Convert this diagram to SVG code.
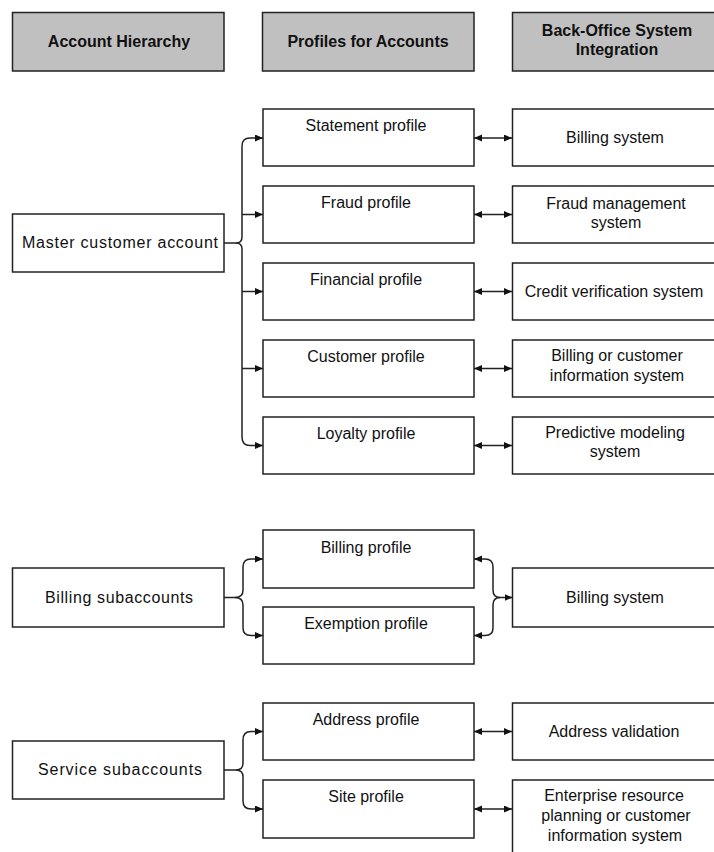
<svg xmlns="http://www.w3.org/2000/svg" width="714" height="852" viewBox="0 0 714 852">
  <style>
    .hdr rect { fill: #c0c0c0; stroke: #222; stroke-width: 1.5; }
    .box rect { fill: #ffffff; stroke: #222; stroke-width: 1.5; }
    text { font-family: "Liberation Sans", Arial, sans-serif; font-size: 16px; fill: #111; text-anchor: middle; }
    .hdr text { font-weight: bold; }
    .link { fill: none; stroke: #222; stroke-width: 1.5; }
    .arrow { marker-end: url(#head); }
    .both { marker-start: url(#head); marker-end: url(#head); }
  </style>
  <defs>
    <marker id="head" markerUnits="userSpaceOnUse" markerWidth="8" markerHeight="8" refX="8" refY="3.5" orient="auto-start-reverse">
      <path d="M0,0 L8,3.5 L0,7 z" fill="#111"/>
    </marker>
  </defs>

  <!-- column headings -->
  <g id="hdr-hierarchy" class="hdr">
    <rect x="12.5" y="12.5" width="211.5" height="58.5"/>
    <text x="119" y="47">Account Hierarchy</text>
  </g>
  <g id="hdr-profiles" class="hdr">
    <rect x="262.5" y="12.5" width="211.5" height="58.5"/>
    <text x="368" y="47">Profiles for Accounts</text>
  </g>
  <g id="hdr-backoffice" class="hdr">
    <rect x="512.5" y="12.5" width="215" height="58.5"/>
    <text x="617" y="36">Back-Office System</text>
    <text x="617" y="55">Integration</text>
  </g>

  <!-- account hierarchy -->
  <g id="master-account" class="box">
    <rect x="12.5" y="214" width="211.5" height="58"/>
    <text x="120" y="248" textLength="196" lengthAdjust="spacing">Master customer account</text>
  </g>
  <g id="billing-subaccounts" class="box">
    <rect x="12.5" y="568" width="211.5" height="59"/>
    <text x="119" y="603" textLength="148" lengthAdjust="spacing">Billing subaccounts</text>
  </g>
  <g id="service-subaccounts" class="box">
    <rect x="12.5" y="741" width="211.5" height="58"/>
    <text x="120" y="775" textLength="164" lengthAdjust="spacing">Service subaccounts</text>
  </g>

  <!-- profiles -->
  <g id="statement-profile" class="box">
    <rect x="263" y="109" width="211" height="57"/>
    <text x="366" y="131">Statement profile</text>
  </g>
  <g id="fraud-profile" class="box">
    <rect x="263" y="186" width="211" height="57"/>
    <text x="366" y="208">Fraud profile</text>
  </g>
  <g id="financial-profile" class="box">
    <rect x="263" y="263" width="211" height="57"/>
    <text x="366" y="285">Financial profile</text>
  </g>
  <g id="customer-profile" class="box">
    <rect x="263" y="340" width="211" height="57"/>
    <text x="366" y="362">Customer profile</text>
  </g>
  <g id="loyalty-profile" class="box">
    <rect x="263" y="417" width="211" height="57"/>
    <text x="366" y="439">Loyalty profile</text>
  </g>
  <g id="billing-profile" class="box">
    <rect x="263" y="530" width="211" height="58"/>
    <text x="366" y="553">Billing profile</text>
  </g>
  <g id="exemption-profile" class="box">
    <rect x="263" y="607" width="211" height="57"/>
    <text x="366" y="629">Exemption profile</text>
  </g>
  <g id="address-profile" class="box">
    <rect x="263" y="703" width="211" height="57"/>
    <text x="366" y="725">Address profile</text>
  </g>
  <g id="site-profile" class="box">
    <rect x="263" y="780" width="211" height="58"/>
    <text x="366" y="802">Site profile</text>
  </g>

  <!-- back-office systems -->
  <g id="billing-system" class="box">
    <rect x="512.5" y="109" width="215" height="57"/>
    <text x="615" y="143">Billing system</text>
  </g>
  <g id="fraud-system" class="box">
    <rect x="512.5" y="186" width="215" height="57"/>
    <text x="616" y="209">Fraud management</text>
    <text x="616" y="228">system</text>
  </g>
  <g id="credit-system" class="box">
    <rect x="512.5" y="263" width="215" height="57"/>
    <text x="614" y="297">Credit verification system</text>
  </g>
  <g id="customer-info-system" class="box">
    <rect x="512.5" y="340" width="215" height="57"/>
    <text x="617" y="361">Billing or customer</text>
    <text x="617" y="381">information system</text>
  </g>
  <g id="predictive-system" class="box">
    <rect x="512.5" y="417" width="215" height="57"/>
    <text x="615" y="438">Predictive modeling</text>
    <text x="615" y="457">system</text>
  </g>
  <g id="sub-billing-system" class="box">
    <rect x="512.5" y="568" width="215" height="59"/>
    <text x="615" y="603">Billing system</text>
  </g>
  <g id="address-validation" class="box">
    <rect x="512.5" y="703" width="215" height="57"/>
    <text x="614" y="737">Address validation</text>
  </g>
  <g id="erp-system" class="box">
    <rect x="512.5" y="780" width="215" height="90"/>
    <text x="614" y="801">Enterprise resource</text>
    <text x="616" y="821">planning or customer</text>
    <text x="615" y="841">information system</text>
  </g>

  <!-- connectors -->
  <g id="connectors" class="link">
    <!-- master account brace -->
    <path class="arrow" d="M224,243 H236 Q242,243 242,237 V146 Q242,138 250,138 H263"/>
    <path class="arrow" d="M236,243 Q242,243 242,249 V437 Q242,445.5 250,445.5 H263"/>
    <path class="arrow" d="M242,214.5 H263"/>
    <path class="arrow" d="M242,291.5 H263"/>
    <path class="arrow" d="M242,368.5 H263"/>

    <!-- profile to system links -->
    <path class="both" d="M474,138 H512"/>
    <path class="both" d="M474,214.5 H512"/>
    <path class="both" d="M474,291.5 H512"/>
    <path class="both" d="M474,368.5 H512"/>
    <path class="both" d="M474,445.5 H512"/>

    <!-- billing subaccounts brace -->
    <path class="arrow" d="M224,597.5 H235 Q243,597.5 243,590 V567 Q243,559 251,559 H263"/>
    <path class="arrow" d="M235,597.5 Q243,597.5 243,605 V628 Q243,635.5 251,635.5 H263"/>

    <!-- billing profiles to billing system brace -->
    <path class="arrow" d="M500,597.5 Q493,597.5 493,590 V567 Q493,559 485,559 H474"/>
    <path class="arrow" d="M500,597.5 Q493,597.5 493,605 V628 Q493,635.5 485,635.5 H474"/>
    <path class="arrow" d="M500,597.5 H512.5"/>

    <!-- service subaccounts brace -->
    <path class="arrow" d="M224,770 H236 Q243,770 243,763 V740 Q243,731.5 251,731.5 H263"/>
    <path class="arrow" d="M236,770 Q243,770 243,777 V801 Q243,809 251,809 H263"/>

    <path class="both" d="M474,731.5 H512"/>
    <path class="both" d="M474,809 H512"/>
  </g>
</svg>
